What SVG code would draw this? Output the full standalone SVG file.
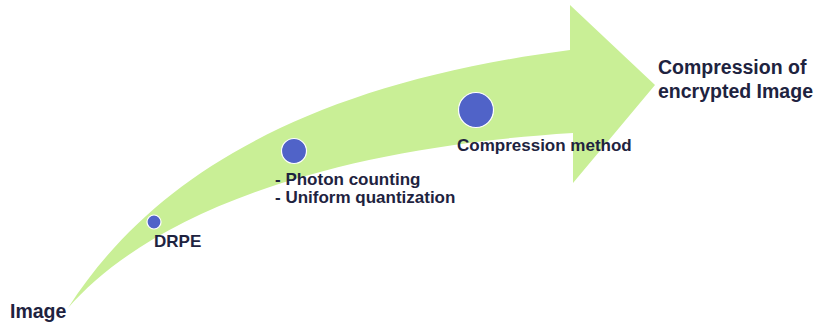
<svg xmlns="http://www.w3.org/2000/svg" width="822" height="326" viewBox="0 0 822 326">
<style>
.t{font-family:"Liberation Sans",Arial,sans-serif;font-weight:bold;fill:#1e2340}
.s{font-size:17px}
.b{font-size:19.5px}
.dot{fill:#5063c8;stroke:#ffffff;stroke-width:1.2}
</style>
<rect width="822" height="326" fill="#ffffff"/>
<g id="connectors">
<path id="arrow" d="M68,308 C150,180 300,85 570,50 L570,5 L655,85 L573,183 L573,133 C300,150 140,225 68,308 Z" fill="#c9ef96"/>
</g>
<g id="node-image"><text class="t b" x="10" y="318">Image</text></g>
<g id="node-drpe">
<circle class="dot" cx="154" cy="222" r="7"/>
<text class="t s" x="154" y="247">DRPE</text>
</g>
<g id="node-photon">
<circle class="dot" cx="294" cy="151" r="12.5"/>
<text class="t s" x="275" y="185">- Photon counting</text>
<text class="t s" x="275" y="203">- Uniform quantization</text>
</g>
<g id="node-compression">
<circle class="dot" cx="476" cy="110" r="17.5"/>
<text class="t s" x="457" y="151">Compression method</text>
</g>
<g id="node-result">
<text class="t b" x="658" y="74">Compression of</text>
<text class="t b" x="658" y="98">encrypted Image</text>
</g>
</svg>
